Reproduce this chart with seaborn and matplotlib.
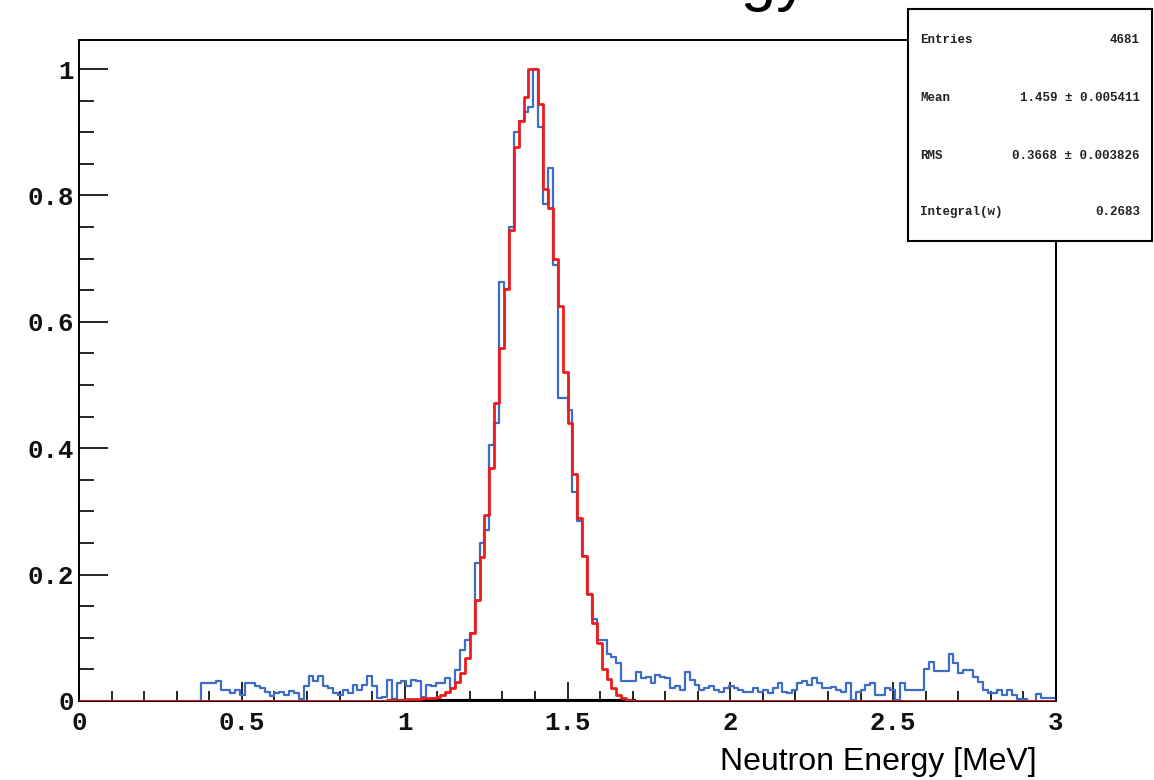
import numpy as np
import pandas as pd
import matplotlib
matplotlib.use("Agg")
import matplotlib.pyplot as plt
import seaborn as sns
from matplotlib.ticker import MultipleLocator, FuncFormatter
from matplotlib.patches import Rectangle

# ---------------- data ----------------
n_bins = 200
x_min, x_max = 0.0, 3.0

blue_first_bin = 25
blue_values = [
    0.028, 0.028, 0.028, 0.031, 0.018, 0.018, 0.012, 0.017, 0.009, 0.028,
    0.028, 0.024, 0.020, 0.015, 0.008, 0.013, 0.015, 0.009, 0.016, 0.012,
    0.003, 0.023, 0.040, 0.031, 0.039, 0.023, 0.020, 0.012, 0.009, 0.017,
    0.013, 0.025, 0.017, 0.025, 0.039, 0.023, 0.004, 0.007, 0.033, 0.003,
    0.028, 0.031, 0.023, 0.033, 0.031, 0.007, 0.025, 0.023, 0.028, 0.028,
    0.036, 0.020, 0.049, 0.081, 0.097, 0.107, 0.218, 0.250, 0.270, 0.405,
    0.440, 0.663, 0.652, 0.750, 0.900, 0.918, 0.932, 0.940, 1.000, 0.909,
    0.787, 0.843, 0.690, 0.480, 0.480, 0.460, 0.330, 0.285, 0.230, 0.170,
    0.130, 0.097, 0.097, 0.075, 0.070, 0.060, 0.031, 0.031, 0.031, 0.046,
    0.036, 0.038, 0.028, 0.041, 0.038, 0.036, 0.020, 0.023, 0.017, 0.046,
    0.033, 0.025, 0.017, 0.020, 0.023, 0.017, 0.015, 0.020, 0.023, 0.020,
    0.017, 0.015, 0.015, 0.020, 0.015, 0.018, 0.012, 0.020, 0.028, 0.015,
    0.012, 0.017, 0.028, 0.031, 0.025, 0.036, 0.028, 0.020, 0.020, 0.022,
    0.017, 0.015, 0.028, 0.002, 0.015, 0.017, 0.025, 0.028, 0.009, 0.009,
    0.020, 0.017, 0.002, 0.028, 0.017, 0.017, 0.017, 0.017, 0.050, 0.061,
    0.048, 0.048, 0.048, 0.074, 0.060, 0.045, 0.049, 0.049, 0.038, 0.030,
    0.017, 0.012, 0.012, 0.018, 0.009, 0.018, 0.009, 0.003, 0.003, 0.000,
    0.000, 0.011, 0.004, 0.004, 0.004,
]

red_first_bin = 63
red_values = [
    0.002, 0.002, 0.002, 0.002, 0.003, 0.003, 0.003, 0.004, 0.004, 0.005,
    0.007, 0.010, 0.015, 0.020, 0.030, 0.044, 0.068, 0.107, 0.160, 0.228,
    0.294, 0.368, 0.471, 0.558, 0.652, 0.745, 0.877, 0.918, 0.956, 1.000,
    1.000, 0.945, 0.810, 0.780, 0.700, 0.625, 0.520, 0.440, 0.360, 0.290,
    0.230, 0.170, 0.123, 0.091, 0.050, 0.035, 0.021, 0.0095, 0.004, 0.0016,
]

fit_range = [0.945, 1.71]

x_ticks_major = [0, 0.5, 1, 1.5, 2, 2.5, 3]
y_ticks_major = [0, 0.2, 0.4, 0.6, 0.8, 1.0]

title_text = "Neutron Energy"
xlabel_text = "Neutron Energy [MeV]"
stats_labels = ["Entries", "Mean", "RMS", "Integral(w)"]
stats_values = ["4681", "1.459 \u00b1 0.005411", "0.3668 \u00b1 0.003826", "0.2683"]

# ---------------- build histograms ----------------
edges = np.linspace(x_min, x_max, n_bins + 1)
centers = 0.5 * (edges[:-1] + edges[1:])
blue = np.zeros(n_bins)
blue[blue_first_bin:blue_first_bin + len(blue_values)] = blue_values
red = np.zeros(n_bins)
red[red_first_bin:red_first_bin + len(red_values)] = red_values
df = pd.DataFrame({"energy": centers, "data": blue, "fit": red})
bin_list = [float(e) for e in edges]

sns.set_theme(style="white")
plt.rcParams['font.family'] = ['DejaVu Sans']

W, H = 1154, 780
fig = plt.figure(figsize=(W / 100, H / 100), dpi=100)
fig.patch.set_facecolor("white")
ax_left, ax_right, ax_top, ax_bottom = 79, 1056, 40, 701
ax = fig.add_axes([ax_left / W, 1 - ax_bottom / H, (ax_right - ax_left) / W, (ax_bottom - ax_top) / H])
ax.set_facecolor("white")

blue_color = "#3d6dc4"
red_color = "#ee1c1c"

sns.histplot(data=df, x="energy", weights="data", bins=bin_list, element="step", fill=False,
             color=blue_color, linewidth=1.6, ax=ax, zorder=2)
ax.plot(fit_range, [0, 0], color="black", linewidth=3.0, zorder=3, solid_capstyle="butt")
sns.histplot(data=df, x="energy", weights="fit", bins=bin_list, element="step", fill=False,
             color=red_color, linewidth=2.0, ax=ax, zorder=4)

ax.set_xlim(x_min, x_max)
ax.set_ylim(0, 1.046)
ax.set_xlabel("")
ax.set_ylabel("")

for s in ["left", "bottom", "right", "top"]:
    ax.spines[s].set_visible(True)
    ax.spines[s].set_color("black")
    ax.spines[s].set_linewidth(1.4)

ax.xaxis.set_major_locator(plt.FixedLocator(x_ticks_major))
ax.xaxis.set_minor_locator(MultipleLocator(0.1))
ax.yaxis.set_major_locator(plt.FixedLocator(y_ticks_major))
ax.yaxis.set_minor_locator(MultipleLocator(0.05))
fmt = FuncFormatter(lambda v, p: "%g" % v)
ax.xaxis.set_major_formatter(fmt)
ax.yaxis.set_major_formatter(fmt)

ax.tick_params(axis="x", which="major", direction="in", length=13.5, width=1.2, color="black", pad=7,
               bottom=True, top=False)
ax.tick_params(axis="x", which="minor", direction="in", length=7.2, width=1.2, color="black",
               bottom=True, top=False)
ax.tick_params(axis="y", which="major", direction="in", length=21, width=1.2, color="black", pad=3.5,
               left=True, right=False)
ax.tick_params(axis="y", which="minor", direction="in", length=11, width=1.2, color="black",
               left=True, right=False)
for lab in ax.get_xticklabels() + ax.get_yticklabels():
    lab.set_fontfamily("Liberation Mono")
    lab.set_fontweight("bold")
    lab.set_fontsize(18.5)
    lab.set_color("#111111")

# x-axis title
fig.text(1037 / W, 1 - 762 / H, xlabel_text, ha="right", va="center",
         fontsize=23, family="Liberation Sans", color="black")

# main title, mostly cut off by the top edge (only descenders show)
fig.text(808 / W, 1 + 1 / H, title_text, ha="right", va="baseline",
         fontsize=46, family="Liberation Sans", color="black")

# stats box
bx0, bx1, by0, by1 = 908, 1152, 9, 241
box = Rectangle((bx0 / W, 1 - by1 / H), (bx1 - bx0) / W, (by1 - by0) / H,
                transform=fig.transFigure, facecolor="white", edgecolor="black",
                linewidth=1.5, zorder=10)
fig.add_artist(box)
row_y = [40, 98, 156, 212]
for lab, val, yy in zip(stats_labels, stats_values, row_y):
    fig.text(920 / W, 1 - yy / H, lab, ha="left", va="center", fontsize=9,
             family="Liberation Mono", fontweight="bold", color="#222222", zorder=11)
    fig.text(1140 / W, 1 - yy / H, val, ha="right", va="center", fontsize=9,
             family="Liberation Mono", fontweight="bold", color="#222222", zorder=11)

fig.savefig("out.png", dpi=100, facecolor="white")
